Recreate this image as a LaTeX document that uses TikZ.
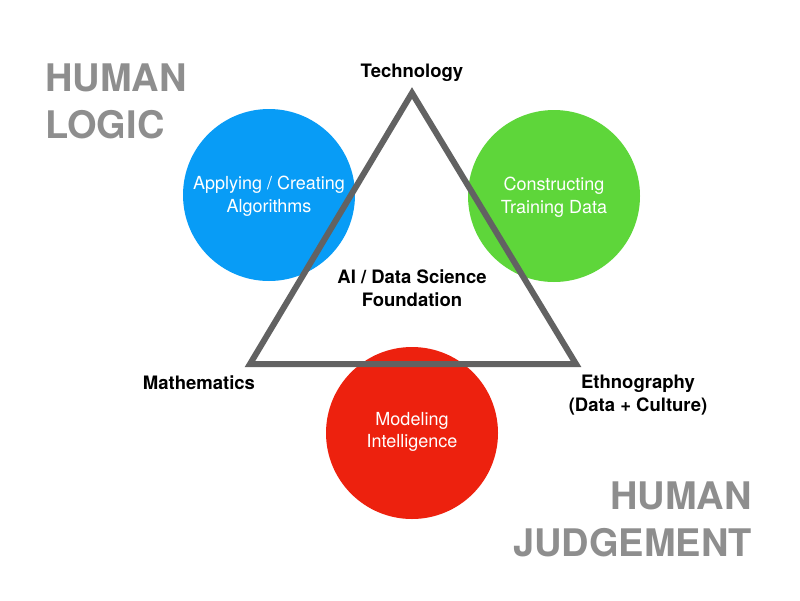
\documentclass[tikz,border=0pt]{standalone}
\usepackage{fontspec}
\setmainfont{TeX Gyre Heros}
\usepackage{xcolor}
\definecolor{algoblue}{RGB}{8,156,246}
\definecolor{datagreen}{RGB}{94,214,58}
\definecolor{modelred}{RGB}{237,33,14}
\definecolor{edgegray}{RGB}{98,98,98}
\definecolor{textgray}{RGB}{142,142,142}

\begin{document}
\begin{tikzpicture}[x=1pt,y=-1pt,
  corner/.style={font=\fontsize{18.5}{23}\selectfont\bfseries,align=center},
  inner/.style={font=\fontsize{18}{22.5}\selectfont,text=white,align=center},
  big/.style={font=\fontsize{38}{47}\selectfont\bfseries,text=textgray,inner sep=0pt}]
\useasboundingbox (0,0) rectangle (800,600);

% the three circles
\fill[algoblue] (269,195) circle (86);
\fill[datagreen] (554,196) circle (86);
\fill[modelred] (412,433) circle (86);
\node[inner] (algo) at (269,196) {Applying / Creating\\Algorithms};
\node[inner] (train) at (554,197) {Constructing\\Training Data};
\node[inner] (model) at (412,432) {Modeling\\Intelligence};

% triangle on top
\coordinate (tech) at (412,93);
\coordinate (math) at (250,364);
\coordinate (ethno) at (576,364);
\draw[edgegray,line width=6pt] (tech) -- (math) -- (ethno) -- cycle;
\node[corner] (technology) at (412,73) {Technology};
\node[corner] (mathematics) at (199,383) {Mathematics};
\node[corner] (ethnography) at (638,395) {Ethnography\\(Data + Culture)};
\node[corner] (found) at (412,288) {AI / Data Science\\Foundation};

\node[big,anchor=north west,align=left] (logic) at (45,64) {HUMAN\\LOGIC};
\node[big,anchor=north east,align=right] (judge) at (752,482) {HUMAN\\JUDGEMENT};
\end{tikzpicture}
\end{document}
